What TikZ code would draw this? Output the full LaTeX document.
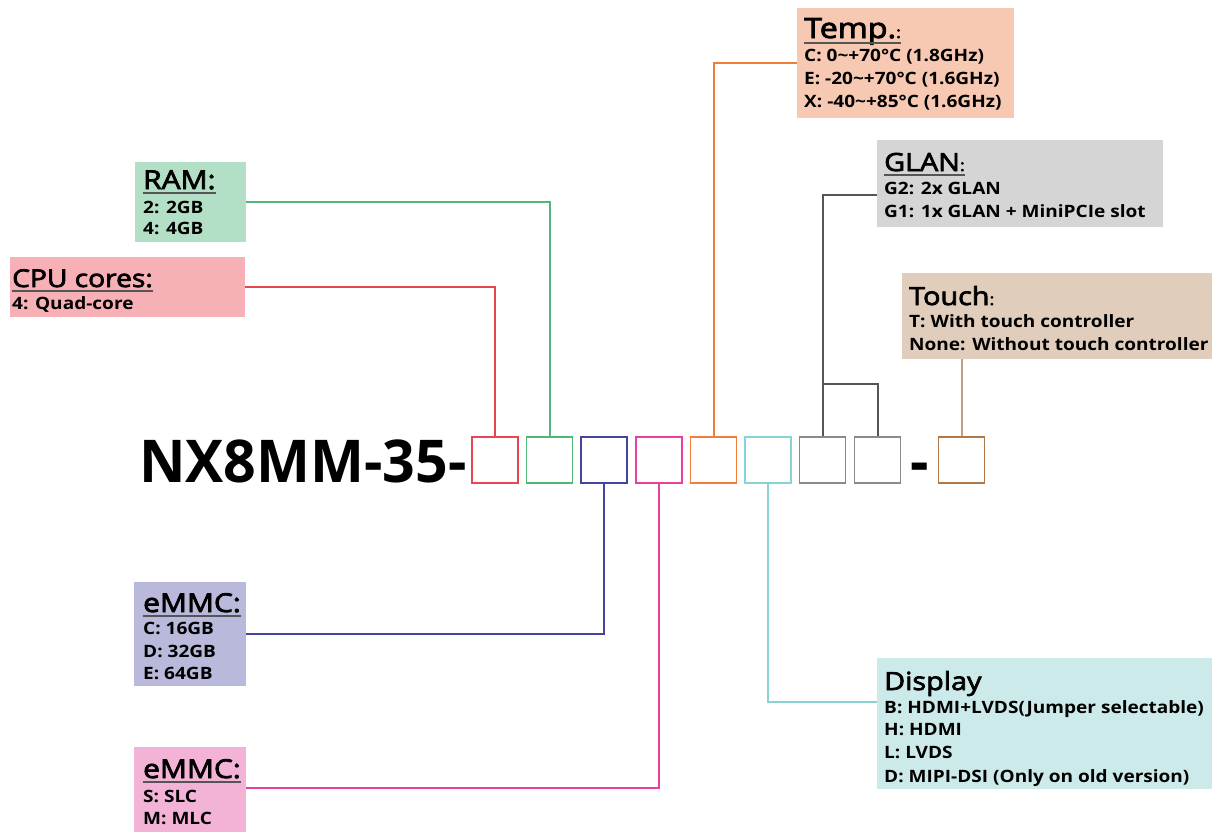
\documentclass[tikz,border=0pt]{standalone}
\usepackage{fontspec}
\setmainfont{Open Sans}
\newfontfamily\titlefont{Open Sans}[FakeBold=3,FakeStretch=1.15]
\newfontfamily\itemfont{Open Sans}[FakeStretch=1.12]
\newfontfamily\pnfont{Open Sans}[FakeStretch=0.97]
\definecolor{cRed}{HTML}{E84552}
\definecolor{cRedF}{HTML}{F7B1B6}
\definecolor{cGrn}{HTML}{4DB878}
\definecolor{cGrnF}{HTML}{B3DFC7}
\definecolor{cNav}{HTML}{45459E}
\definecolor{cNavF}{HTML}{B9B9DB}
\definecolor{cPnk}{HTML}{E8409E}
\definecolor{cPnkF}{HTML}{F2B3D7}
\definecolor{cOrg}{HTML}{F07D3C}
\definecolor{cOrgF}{HTML}{F7C9B3}
\definecolor{cCyn}{HTML}{88D4D4}
\definecolor{cCynF}{HTML}{CDEAEA}
\definecolor{cGry}{HTML}{8A8A8A}
\definecolor{cGryL}{HTML}{555555}
\definecolor{cGryF}{HTML}{D5D5D5}
\definecolor{cBrn}{HTML}{B07848}
\definecolor{cBrnL}{HTML}{C4A080}
\definecolor{cBrnF}{HTML}{E0CDBC}
\begin{document}
\begin{tikzpicture}[x=1pt,y=-1pt,
  codebox/.style={draw=#1, line width=1.8pt, minimum width=46pt, minimum height=46pt, inner sep=0pt, fill=white},
  lblbox/.style={fill=#1, draw=none, inner sep=0pt, anchor=north west},
  ttl/.style={anchor=base west, inner sep=0pt, font=\titlefont\fontsize{#1}{#1}\selectfont},
  itm/.style={anchor=base west, inner sep=0pt, font=\itemfont\bfseries\fontsize{17}{20}\selectfont},
  ul/.style={draw=cGryL, line width=1.4pt},
  conn/.style={line width=2pt},
  pnstyle/.style={inner sep=0pt, font=\pnfont\bfseries\fontsize{59}{60}\selectfont}]
\useasboundingbox (0,0) rectangle (1215,831);

% label boxes
\node[lblbox=cGrnF, minimum width=111pt, minimum height=80pt] (ram) at (135,162) {};
\node[lblbox=cRedF, minimum width=235pt, minimum height=60pt] (cpu) at (10,257) {};
\node[lblbox=cOrgF, minimum width=217pt, minimum height=110pt] (temp) at (797,8) {};
\node[lblbox=cGryF, minimum width=286pt, minimum height=87pt] (glan) at (877,140) {};
\node[lblbox=cBrnF, minimum width=310pt, minimum height=86pt] (touch) at (902,273) {};
\node[lblbox=cNavF, minimum width=112pt, minimum height=104pt] (emmca) at (134,582) {};
\node[lblbox=cPnkF, minimum width=112pt, minimum height=95pt] (emmcb) at (134,747) {};
\node[lblbox=cCynF, minimum width=335pt, minimum height=131pt] (disp) at (877,658) {};

% RAM
\node[ttl=26] (tram) at (143,189) {RAM:};
\draw[ul] ([yshift=-4pt]tram.base west) -- ([yshift=-4pt]tram.base east);
\node[itm] (ram1) at (143,213) {2: 2GB};
\node[itm] (ram2) at (143,234) {4: 4GB};
% CPU
\node[ttl=24.5] (tcpu) at (12,287) {CPU cores:};
\draw[ul] ([yshift=-4pt]tcpu.base west) -- ([yshift=-4pt]tcpu.base east);
\node[itm] (cpu1) at (12,309) {4: Quad-core};
% Temp
\node[ttl=28] (ttemp) at (804,38) {Temp.{\fontsize{16}{16}\selectfont:}};
\draw[ul] ([yshift=-5pt]ttemp.base west) -- ([yshift=-5pt]ttemp.base east);
\node[itm] (temp1) at (804,61) {C: 0\textasciitilde+70°C (1.8GHz)};
\node[itm] (temp2) at (804,84) {E: -20\textasciitilde+70°C (1.6GHz)};
\node[itm] (temp3) at (804,107) {X: -40\textasciitilde+85°C (1.6GHz)};
% GLAN
\node[ttl=25] (tglan) at (884,171) {GLAN{\fontsize{16}{16}\selectfont:}};
\draw[ul] ([yshift=-4pt]tglan.base west) -- ([yshift=-4pt]tglan.base east);
\node[itm] (glan1) at (884,194) {G2: 2x GLAN};
\node[itm] (glan2) at (884,217) {G1: 1x GLAN + MiniPCIe slot};
% Touch
\node[ttl=25] (ttouch) at (909,305) {Touch{\fontsize{16}{16}\selectfont:}};
\node[itm] (touch1) at (909,327) {T: With touch controller};
\node[itm] (touch2) at (909,350) {None: Without touch controller};
% eMMC 1
\node[ttl=26] (temma) at (143,612) {eMMC:};
\draw[ul] ([yshift=-4pt]temma.base west) -- ([yshift=-4pt]temma.base east);
\node[itm] (emma1) at (143,634) {C: 16GB};
\node[itm] (emma2) at (143,657) {D: 32GB};
\node[itm] (emma3) at (143,679) {E: 64GB};
% eMMC 2
\node[ttl=26] (temmb) at (143,778) {eMMC:};
\draw[ul] ([yshift=-4pt]temmb.base west) -- ([yshift=-4pt]temmb.base east);
\node[itm] (emmb1) at (143,802) {S: SLC};
\node[itm] (emmb2) at (143,824) {M: MLC};
% Display
\node[ttl=25] (tdisp) at (884,690) {Display};
\node[itm] (disp1) at (884,713) {B: HDMI+LVDS(Jumper selectable)};
\node[itm] (disp2) at (884,735) {H: HDMI};
\node[itm] (disp3) at (884,758) {L: LVDS};
\node[itm] (disp4) at (884,782) {D: MIPI-DSI (Only on old version)};

% part number
\node[pnstyle, anchor=base west] (pn) at (139,482) {NX8MM-35-};
\node[pnstyle, anchor=base] (dash) at (919.5,482) {-};

% code boxes
\node[codebox=cRed] (b1) at (495,460) {};
\node[codebox=cGrn] (b2) at (549.5,460) {};
\node[codebox=cNav] (b3) at (604,460) {};
\node[codebox=cPnk] (b4) at (659,460) {};
\node[codebox=cOrg] (b5) at (713.5,460) {};
\node[codebox=cCyn] (b6) at (768,460) {};
\node[codebox=cGry] (b7) at (822.5,460) {};
\node[codebox=cGry] (b8) at (877.5,460) {};
\node[codebox=cBrn] (b9) at (961.5,460) {};

% connectors
\draw[conn, cRed] (b1.north) |- (cpu.east);
\draw[conn, cGrn] (b2.north) |- (ram.east);
\draw[conn, cOrg] (b5.north) |- (temp.west);
\draw[conn, cGryL] (b7.north) |- (glan.west |- 0,195);
\draw[conn, cGryL] (b8.north) |- (b7.north |- 0,384);
\draw[conn, cBrnL] (b9.north) -- (b9.north |- touch.south);
\draw[conn, cNav] (b3.south) |- (emmca.east);
\draw[conn, cPnk] (b4.south) |- (emmcb.east |- 0,788);
\draw[conn, cCyn] (b6.south) |- (disp.west |- 0,702);
\end{tikzpicture}
\end{document}
